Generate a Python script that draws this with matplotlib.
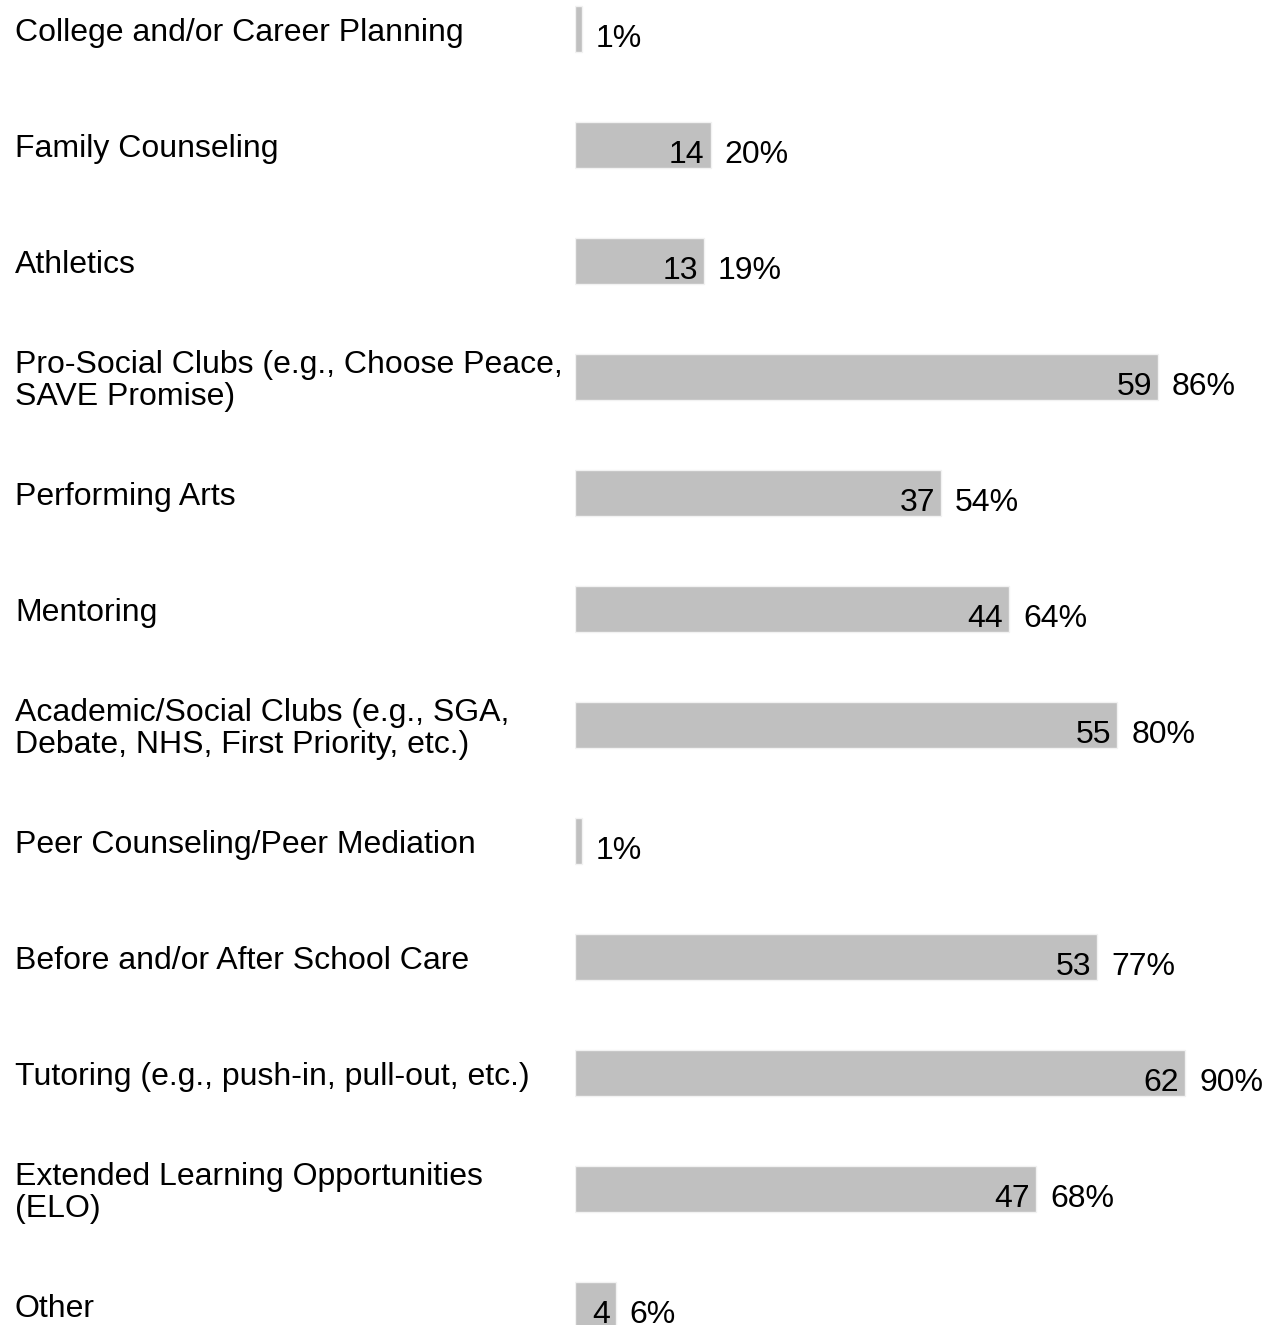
import matplotlib
matplotlib.use("Agg")
import matplotlib.pyplot as plt

plt.rcParams['font.family'] = ['Liberation Sans', 'DejaVu Sans']

categories = [
    "College and/or Career Planning",
    "Family Counseling",
    "Athletics",
    "Pro-Social Clubs (e.g., Choose Peace,\nSAVE Promise)",
    "Performing Arts",
    "Mentoring",
    "Academic/Social Clubs (e.g., SGA,\nDebate, NHS, First Priority, etc.)",
    "Peer Counseling/Peer Mediation",
    "Before and/or After School Care",
    "Tutoring (e.g., push-in, pull-out, etc.)",
    "Extended Learning Opportunities\n(ELO)",
    "Other",
]
counts = [1, 14, 13, 59, 37, 44, 55, 1, 53, 62, 47, 4]
percents = [1, 20, 19, 86, 54, 64, 80, 1, 77, 90, 68, 6]

W, H = 1268, 1325
fig = plt.figure(figsize=(W / 100, H / 100), dpi=100)
ax = fig.add_axes([575 / W, 0, (W - 575) / W, 1])

pos = list(range(len(categories)))
ax.barh(pos, percents, height=0.4, color='#c0c0c0', edgecolor='#f2f2f2', linewidth=1)

ax.set_xlim(0, 693 / 6.78)
ax.set_ylim(-0.25 + H / 116, -0.25)
ax.axis('off')

fs = 23
for i, (c, p, lab) in enumerate(zip(counts, percents, categories)):
    if p >= 3:
        ax.annotate(str(c), xy=(p, i + 0.085), xytext=(-6, 0), textcoords='offset pixels',
                    ha='right', va='center', fontsize=fs, color='black')
    ax.annotate(f"{p}%", xy=(p, i + 0.085), xytext=(14, 0), textcoords='offset pixels',
                ha='left', va='center', fontsize=fs, color='black')
    yfig = 1 - (33 + 116 * i) / H
    fig.text(15 / W, yfig, lab, ha='left', va='center', fontsize=fs, linespacing=1.05)

fig.savefig("out.png", dpi=100)
